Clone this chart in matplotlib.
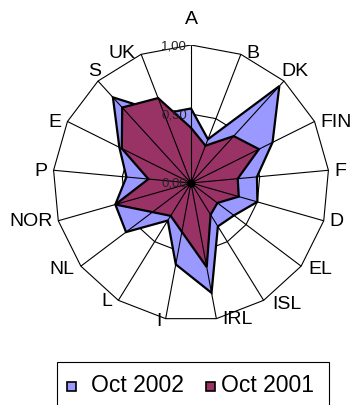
import numpy as np
import matplotlib
matplotlib.use("Agg")
import matplotlib.pyplot as plt
from matplotlib.patches import Rectangle, Polygon

plt.rcParams["font.family"] = ["Liberation Sans", "DejaVu Sans"]

# ---- data -------------------------------------------------------------
categories = ["A", "B", "DK", "FIN", "F", "D", "EL", "ISL", "IRL",
              "I", "L", "NL", "NOR", "P", "E", "S", "UK"]
oct_2002 = [0.54, 0.34, 0.95, 0.66, 0.48, 0.50, 0.39, 0.37, 0.81,
            0.60, 0.32, 0.59, 0.57, 0.47, 0.58, 0.84, 0.54]
oct_2001 = [0.40, 0.29, 0.46, 0.55, 0.34, 0.36, 0.24, 0.27, 0.62,
            0.36, 0.28, 0.35, 0.57, 0.31, 0.56, 0.74, 0.66]
ring_values = [0.0, 0.5, 1.0]
ring_labels = ["0,00", "0,50", "1,00"]
series_names = ["Oct 2002", "Oct 2001"]

# ---- style ------------------------------------------------------------
colors = ["#9999FF", "#993366"]
# small pixel nudges for a few crowded category labels (dx, dy; y downwards)
label_nudge = {"DK": (-9, -11), "S": (9, -11), "ISL": (3, 3), "EL": (1, 2),
               "NL": (0, 2), "I": (2, 2), "B": (0, -2), "UK": (0, -2)}

W, H = 354, 406
fig = plt.figure(figsize=(W / 100, H / 100), dpi=100)
cx, cy, R = 191, 184, 138
ax = fig.add_axes([(cx - R) / W, (H - cy - R) / H, 2 * R / W, 2 * R / H])
ax.set_xlim(-1, 1)
ax.set_ylim(-1, 1)
ax.axis("off")

n = len(categories)
theta = np.arange(n) * 2 * np.pi / n  # clockwise from north


def to_xy(vals):
    v = np.asarray(vals, dtype=float)
    return v * np.sin(theta), v * np.cos(theta)


# inner ring (hidden behind the filled series)
for rv in ring_values[1:-1]:
    x, y = to_xy([rv] * n)
    ax.add_patch(Polygon(np.column_stack([x, y]), closed=True, fill=False,
                         edgecolor="black", lw=0.8, zorder=1))

# outer ring
x, y = to_xy([ring_values[-1]] * n)
ax.add_patch(Polygon(np.column_stack([x, y]), closed=True, fill=False,
                     edgecolor="black", lw=0.8, zorder=4))

# filled series
for vals, col, z in [(oct_2002, colors[0], 2), (oct_2001, colors[1], 3)]:
    x, y = to_xy(vals)
    ax.add_patch(Polygon(np.column_stack([x, y]), closed=True,
                         facecolor=col, edgecolor="black", lw=1.6,
                         joinstyle="miter", zorder=z))

# spokes drawn over the fills
xo, yo = to_xy([1.0] * n)
for xe, ye in zip(xo, yo):
    ax.plot([0, xe], [0, ye], color="black", lw=0.8, zorder=5,
            solid_capstyle="butt")
ax.plot([0], [0], "o", color="black", ms=5, zorder=5)

# value labels along the first spoke
for rv, lab in zip(ring_values, ring_labels):
    ax.text(-0.03, rv, lab, ha="right", va="center", fontsize=9.5,
            color="#222222", zorder=6)

# category labels, anchored just outside the outer ring
px_to_data = 1.0 / R
gap = 6
for t, lab in zip(theta, categories):
    s, c = np.sin(t), np.cos(t)
    dx, dy = label_nudge.get(lab, (0, 0))
    if abs(s) < 0.05:
        ax.text(s, c + 18 * px_to_data, lab, ha="center", va="bottom",
                fontsize=14, color="black", zorder=6)
        continue
    ha = "left" if s > 0 else "right"
    xt = s + np.sign(s) * gap * px_to_data + dx * px_to_data
    yt = c - dy * px_to_data
    ax.text(xt, yt, lab, ha=ha, va="center", fontsize=14, color="black",
            zorder=6)

# legend box (runs past the bottom edge)
lx0, ly0, lx1 = 57, 363, 329
fig.patches.append(Rectangle((lx0 / W, (H - 430) / H), (lx1 - lx0) / W,
                             (430 - ly0) / H, transform=fig.transFigure,
                             fill=False, edgecolor="black", lw=0.8))
entries = [(67, 91), (206, 221)]
base = 392
for (mx, tx), col, name in zip(entries, colors, series_names):
    fig.patches.append(Rectangle((mx / W, (H - base) / H), 9 / W, 9 / H,
                                 transform=fig.transFigure, facecolor=col,
                                 edgecolor="black", lw=1.2))
    fig.text(tx / W, (H - base) / H, name, ha="left", va="baseline",
             fontsize=16.5, color="black")

fig.savefig("out.png", dpi=100)
